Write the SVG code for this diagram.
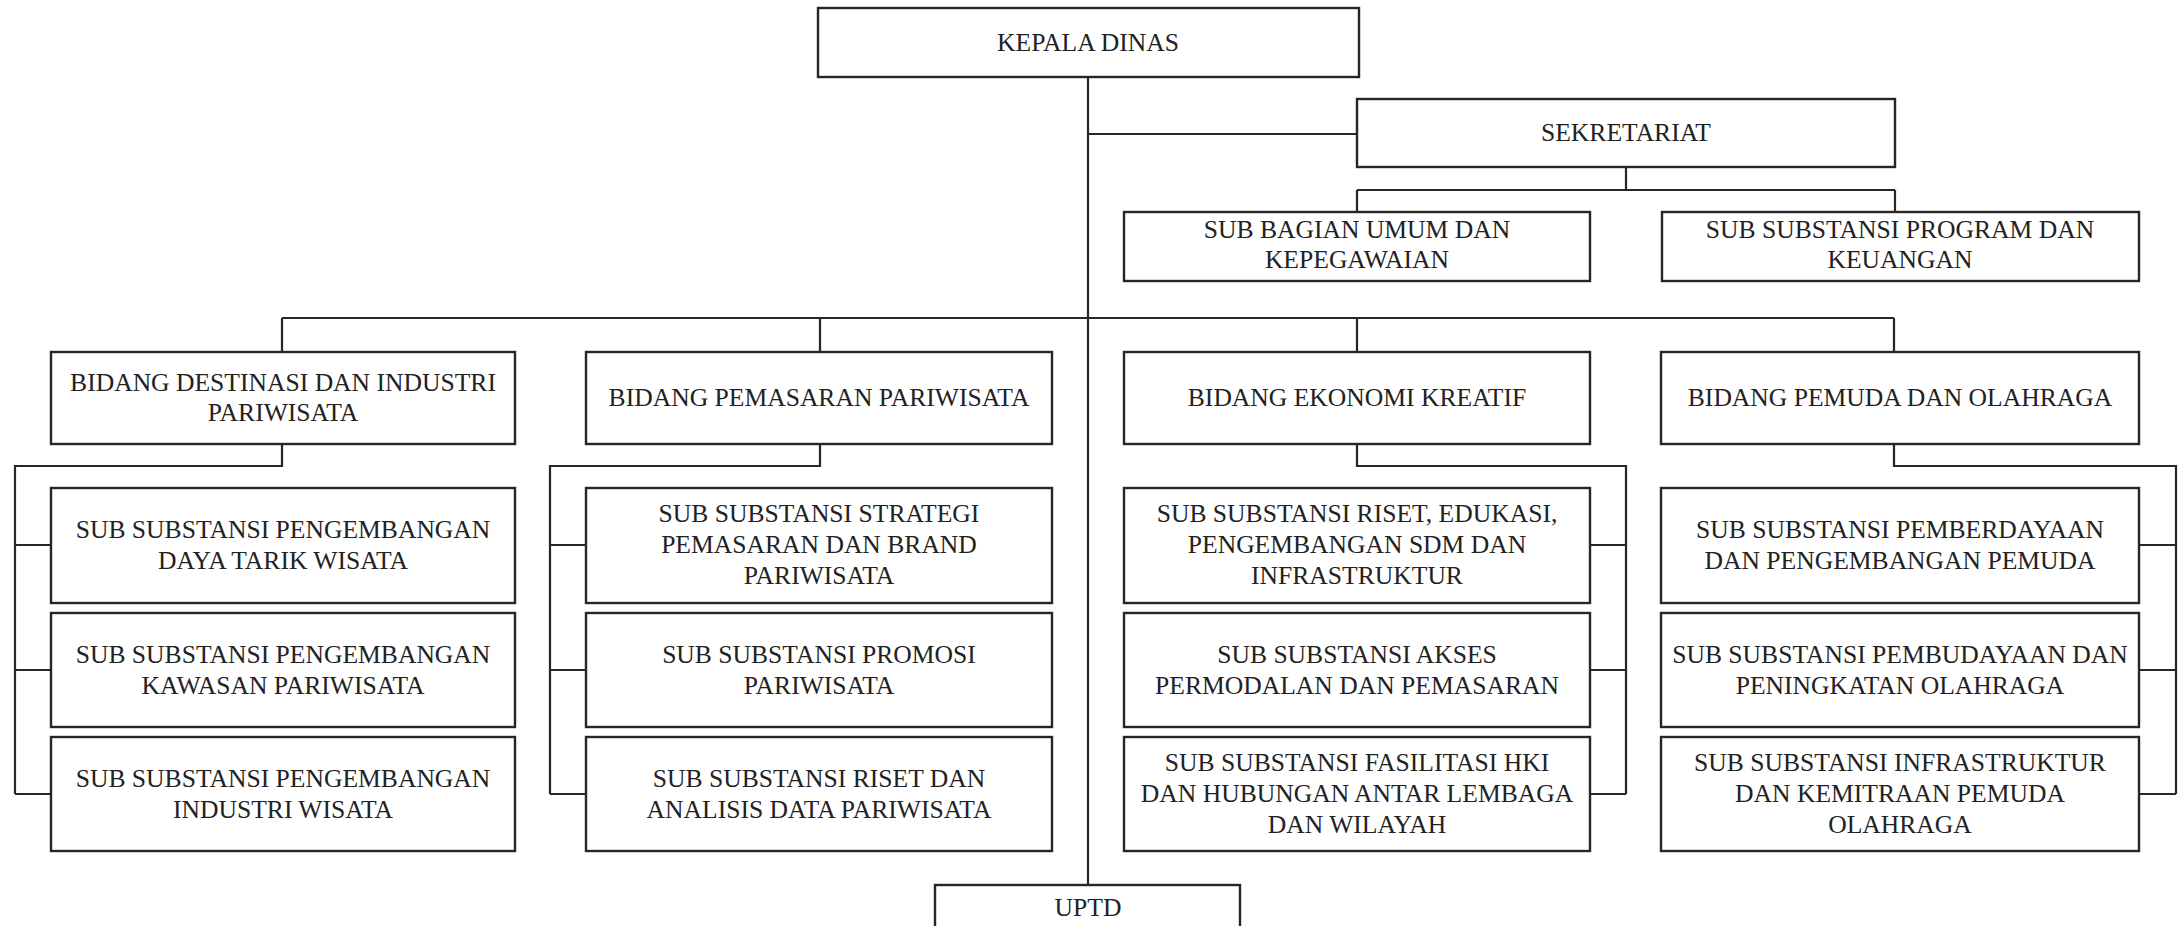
<svg xmlns="http://www.w3.org/2000/svg" width="2179" height="926" viewBox="0 0 2179 926">
<style>
.box{fill:#fff;stroke:#262626;stroke-width:2.4}
.ln{fill:none;stroke:#262626;stroke-width:2.2}
text{font-family:"Liberation Serif","Times New Roman",serif;font-size:25.6px;fill:#222;text-anchor:middle}
</style>
<rect width="2179" height="926" fill="#fff"/>
<g id="connectors">
<path class="ln" d="M1088 77V885"/>
<path class="ln" d="M1088 134H1357"/>
<path class="ln" d="M1626 167V190M1357 190H1895M1357 190V212M1895 190V212"/>
<path class="ln" d="M282 318H1894M282 318V352M820 318V352M1357 318V352M1894 318V352"/>
<path class="ln" d="M282 444V466H15V794M15 545H51M15 670H51M15 794H51"/>
<path class="ln" d="M820 444V466H550V794M550 545H586M550 670H586M550 794H586"/>
<path class="ln" d="M1357 444V466H1626V794M1590 545H1626M1590 670H1626M1590 794H1626"/>
<path class="ln" d="M1894 444V466H2176V794M2139 545H2176M2139 670H2176M2139 794H2176"/>
</g>
<g id="kepala-dinas"><rect class="box" x="818" y="8" width="541" height="69"/><text x="1088" y="51">KEPALA DINAS</text></g>
<g id="sekretariat"><rect class="box" x="1357" y="99" width="538" height="68"/><text x="1626" y="141">SEKRETARIAT</text></g>
<g id="sub-bagian-umum"><rect class="box" x="1124" y="212" width="466" height="69"/><text x="1357" y="238">SUB BAGIAN UMUM DAN</text><text x="1357" y="268">KEPEGAWAIAN</text></g>
<g id="sub-program-keuangan"><rect class="box" x="1662" y="212" width="477" height="69"/><text x="1900" y="238">SUB SUBSTANSI PROGRAM DAN</text><text x="1900" y="268">KEUANGAN</text></g>

<g id="bidang-destinasi"><rect class="box" x="51" y="352" width="464" height="92"/><text x="283" y="391">BIDANG DESTINASI DAN INDUSTRI</text><text x="283" y="421">PARIWISATA</text></g>
<g id="bidang-pemasaran"><rect class="box" x="586" y="352" width="466" height="92"/><text x="819" y="406">BIDANG PEMASARAN PARIWISATA</text></g>
<g id="bidang-ekonomi"><rect class="box" x="1124" y="352" width="466" height="92"/><text x="1357" y="406">BIDANG EKONOMI KREATIF</text></g>
<g id="bidang-pemuda"><rect class="box" x="1661" y="352" width="478" height="92"/><text x="1900" y="406">BIDANG PEMUDA DAN OLAHRAGA</text></g>

<g id="sub-daya-tarik"><rect class="box" x="51" y="488" width="464" height="115"/><text x="283" y="538">SUB SUBSTANSI PENGEMBANGAN</text><text x="283" y="569">DAYA TARIK WISATA</text></g>
<g id="sub-kawasan"><rect class="box" x="51" y="613" width="464" height="114"/><text x="283" y="663">SUB SUBSTANSI PENGEMBANGAN</text><text x="283" y="694">KAWASAN PARIWISATA</text></g>
<g id="sub-industri"><rect class="box" x="51" y="737" width="464" height="114"/><text x="283" y="787">SUB SUBSTANSI PENGEMBANGAN</text><text x="283" y="818">INDUSTRI WISATA</text></g>

<g id="sub-strategi"><rect class="box" x="586" y="488" width="466" height="115"/><text x="819" y="522">SUB SUBSTANSI STRATEGI</text><text x="819" y="553">PEMASARAN DAN BRAND</text><text x="819" y="584">PARIWISATA</text></g>
<g id="sub-promosi"><rect class="box" x="586" y="613" width="466" height="114"/><text x="819" y="663">SUB SUBSTANSI PROMOSI</text><text x="819" y="694">PARIWISATA</text></g>
<g id="sub-riset-data"><rect class="box" x="586" y="737" width="466" height="114"/><text x="819" y="787">SUB SUBSTANSI RISET DAN</text><text x="819" y="818">ANALISIS DATA PARIWISATA</text></g>

<g id="sub-riset-edukasi"><rect class="box" x="1124" y="488" width="466" height="115"/><text x="1357" y="522">SUB SUBSTANSI RISET, EDUKASI,</text><text x="1357" y="553">PENGEMBANGAN SDM DAN</text><text x="1357" y="584">INFRASTRUKTUR</text></g>
<g id="sub-akses"><rect class="box" x="1124" y="613" width="466" height="114"/><text x="1357" y="663">SUB SUBSTANSI AKSES</text><text x="1357" y="694">PERMODALAN DAN PEMASARAN</text></g>
<g id="sub-hki"><rect class="box" x="1124" y="737" width="466" height="114"/><text x="1357" y="771">SUB SUBSTANSI FASILITASI HKI</text><text x="1357" y="802">DAN HUBUNGAN ANTAR LEMBAGA</text><text x="1357" y="833">DAN WILAYAH</text></g>

<g id="sub-pemberdayaan"><rect class="box" x="1661" y="488" width="478" height="115"/><text x="1900" y="538">SUB SUBSTANSI PEMBERDAYAAN</text><text x="1900" y="569">DAN PENGEMBANGAN PEMUDA</text></g>
<g id="sub-pembudayaan"><rect class="box" x="1661" y="613" width="478" height="114"/><text x="1900" y="663">SUB SUBSTANSI PEMBUDAYAAN DAN</text><text x="1900" y="694">PENINGKATAN OLAHRAGA</text></g>
<g id="sub-infrastruktur-pemuda"><rect class="box" x="1661" y="737" width="478" height="114"/><text x="1900" y="771">SUB SUBSTANSI INFRASTRUKTUR</text><text x="1900" y="802">DAN KEMITRAAN PEMUDA</text><text x="1900" y="833">OLAHRAGA</text></g>

<g id="uptd"><rect class="box" x="935" y="885" width="305" height="60"/><text x="1088" y="916">UPTD</text></g>
</svg>
